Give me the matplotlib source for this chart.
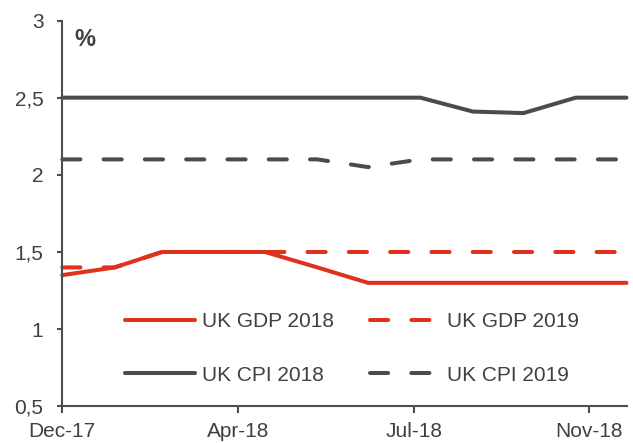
import matplotlib
matplotlib.use("Agg")
import matplotlib.pyplot as plt
import matplotlib.dates as mdates
from matplotlib.ticker import FixedLocator, FuncFormatter
import pandas as pd

# Monthly observations, Dec-17 to Nov-18
dates = pd.date_range("2017-12-31", periods=12, freq="ME")
gdp_2018 = [1.35, 1.4, 1.5, 1.5, 1.5, 1.4, 1.3, 1.3, 1.3, 1.3, 1.3, 1.3]
gdp_2019 = [1.4, 1.4, 1.5, 1.5, 1.5, 1.5, 1.5, 1.5, 1.5, 1.5, 1.5, 1.5]
cpi_2018 = [2.5, 2.5, 2.5, 2.5, 2.5, 2.5, 2.5, 2.5, 2.41, 2.40, 2.5, 2.5]
cpi_2019 = [2.1, 2.1, 2.1, 2.1, 2.1, 2.1, 2.05, 2.1, 2.1, 2.1, 2.1, 2.1]

tick_dates = pd.to_datetime(["2017-12-31", "2018-04-14", "2018-07-27", "2018-11-08"])
tick_labels = ["Dec-17", "Apr-18", "Jul-18", "Nov-18"]
y_ticks = [0.5, 1, 1.5, 2, 2.5, 3]

RED = "#e0301e"
GREY = "#4b4b4d"
TEXT = "#404040"
AXIS = "#4d4d4d"

plt.rcParams["font.family"] = ["Liberation Sans", "DejaVu Sans"]
plt.rcParams["font.size"] = 15

fig = plt.figure(figsize=(6.33, 4.43), dpi=100)
W, H = 633, 443
ax = fig.add_axes([62.3 / W, (H - 406.3) / H, (626.5 - 62.3) / W, (406.3 - 20.5) / H])

lw = 2.9
dash = (4.5, 5.75)
common = dict(lw=lw, solid_capstyle="round", dash_capstyle="round",
              solid_joinstyle="round", dash_joinstyle="round", clip_on=False)

l1, = ax.plot(dates, gdp_2018, color=RED, label="UK GDP 2018", **common)
l2, = ax.plot(dates, gdp_2019, color=RED, label="UK GDP 2019", dashes=dash, **common)
l3, = ax.plot(dates, cpi_2018, color=GREY, label="UK CPI 2018", **common)
l4, = ax.plot(dates, cpi_2019, color=GREY, label="UK CPI 2019", dashes=dash, **common)

ax.set_xlim(dates[0], dates[-1])
ax.set_ylim(0.5, 3)

ax.xaxis.set_major_locator(FixedLocator(mdates.date2num(tick_dates)))
ax.set_xticklabels(tick_labels)
ax.set_yticks(y_ticks)
ax.yaxis.set_major_formatter(FuncFormatter(lambda v, p: f"{v:g}".replace(".", ",")))

for side in ("top", "right"):
    ax.spines[side].set_visible(False)
for side in ("left", "bottom"):
    ax.spines[side].set_color(AXIS)
    ax.spines[side].set_linewidth(1.5)

ax.tick_params(axis="y", direction="out", length=3.6, width=1.5, color=AXIS,
               pad=10, labelcolor=TEXT, labelsize=15)
ax.tick_params(axis="x", direction="out", length=5, width=1.5, color=AXIS,
               pad=6, labelcolor=TEXT, labelsize=15)

fig.text(74 / W, 1 - 40 / H, "%", fontsize=17, fontweight="bold", color=TEXT,
         ha="left", va="center")

leg = ax.legend([l1, l3, l2, l4],
                ["UK GDP 2018", "UK CPI 2018", "UK GDP 2019", "UK CPI 2019"],
                ncol=2, frameon=False, loc="center",
                bbox_to_anchor=(352 / W, 1 - 348.5 / H), bbox_transform=fig.transFigure,
                handlelength=3.35, handletextpad=0.35, columnspacing=1.7,
                labelspacing=1.65, borderpad=0, fontsize=15)
for t in leg.get_texts():
    t.set_color(TEXT)

fig.savefig("out.png", dpi=100)
